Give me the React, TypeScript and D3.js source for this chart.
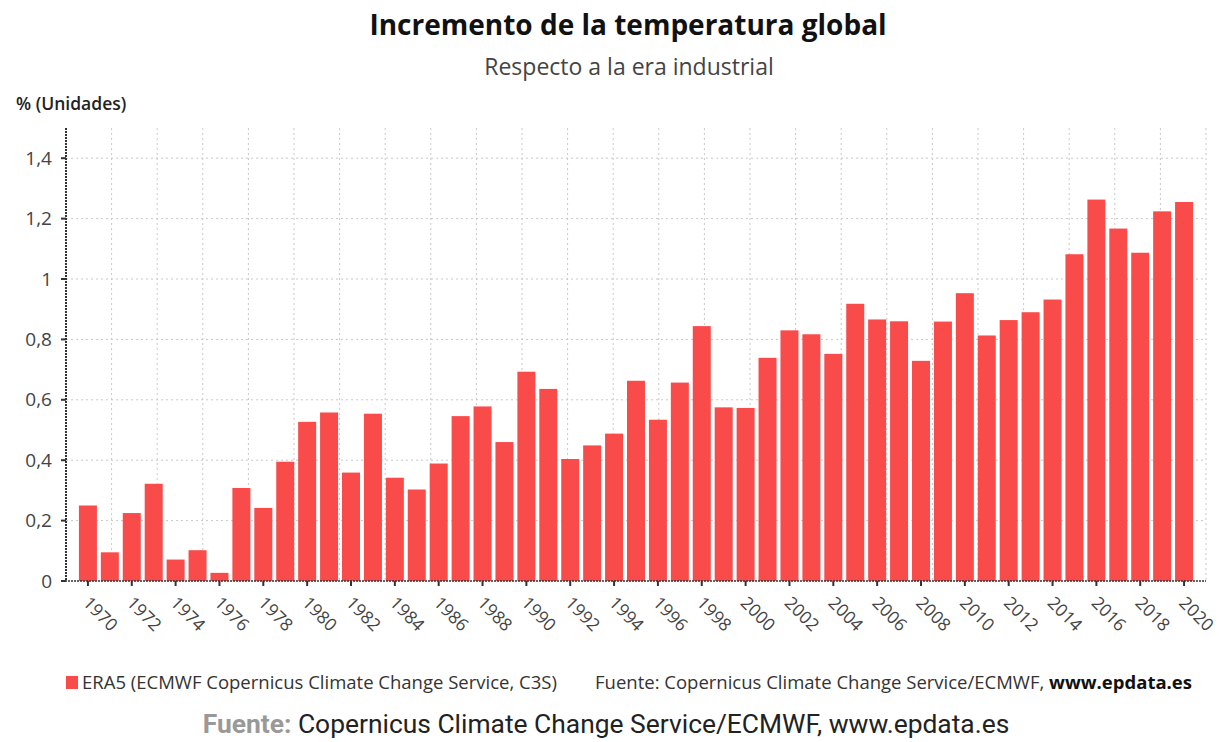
import React from "react";
import * as d3 from "d3";

const years: number[] = d3.range(1970, 2021);
const values: number[] = [
  0.25, 0.095, 0.225, 0.322, 0.071, 0.102, 0.027, 0.308, 0.242, 0.395,
  0.527, 0.558, 0.359, 0.554, 0.342, 0.303, 0.389, 0.546, 0.578, 0.46,
  0.693, 0.636, 0.404, 0.449, 0.488, 0.663, 0.534, 0.657, 0.844, 0.575,
  0.573, 0.739, 0.83, 0.817, 0.752, 0.918, 0.866, 0.86, 0.729, 0.859,
  0.953, 0.813, 0.864, 0.89, 0.932, 1.082, 1.263, 1.167, 1.087, 1.224,
  1.255,
];
const yTicks: number[] = [0, 0.2, 0.4, 0.6, 0.8, 1, 1.2, 1.4];
const xTickYears: number[] = d3.range(1970, 2021, 2);

const W = 1219;
const H = 742;
const left = 66;
const right = 1206;
const top = 128;
const bottom = 581;
const FONT = "'Open Sans', 'Noto Sans', sans-serif";

export default function App() {
  const x = d3.scaleLinear().domain([1969, 2021]).range([left, right]);
  const y = d3.scaleLinear().domain([0, 1.5]).range([bottom, top]);
  const barW = 18;
  const vGrid = d3.range(1, 26).map((i) => left + ((right - left) * i) / 25);
  const fmt = (v: number) => String(v).replace(".", ",");

  return (
    <svg
      width={W}
      height={H}
      style={{ position: "absolute", left: 0, top: 0, background: "#fff" }}
      fontFamily={FONT}
    >
      <text x={628} y={35} textAnchor="middle" fontSize={28} fontWeight={700} fill="#111">
        Incremento de la temperatura global
      </text>
      <text x={629} y={75} textAnchor="middle" fontSize={23} fill="#444">
        Respecto a la era industrial
      </text>
      <text x={16} y={110} fontSize={17.5} fontWeight={600} fill="#222">
        % (Unidades)
      </text>

      {/* grid */}
      {vGrid.map((gx, i) => (
        <line key={"vg" + i} x1={gx} x2={gx} y1={top} y2={bottom} stroke="#c8c8c8" strokeDasharray="2,3" strokeWidth={1} />
      ))}
      {yTicks.filter((t) => t > 0).map((t) => (
        <line key={"hg" + t} x1={left} x2={right} y1={y(t)} y2={y(t)} stroke="#c8c8c8" strokeDasharray="2,3" strokeWidth={1} />
      ))}

      {/* bars */}
      {years.map((yr, i) => (
        <rect
          key={yr}
          x={x(yr) - barW / 2}
          y={y(values[i])}
          width={barW}
          height={y(0) - y(values[i])}
          fill="#fa4b4b"
        />
      ))}

      {/* axes */}
      <line x1={left} x2={left} y1={top} y2={bottom} stroke="#333" strokeWidth={2} strokeDasharray="2,1" />
      <line x1={left - 4} x2={right} y1={bottom} y2={bottom} stroke="#333" strokeWidth={1.5} strokeDasharray="2,1" />
      {yTicks.map((t) => (
        <g key={"yt" + t}>
          <line x1={left - 5} x2={left} y1={y(t)} y2={y(t)} stroke="#333" strokeWidth={2} />
          <text x={52} y={y(t)} dy="0.35em" textAnchor="end" fontSize={19} fill="#444">
            {fmt(t)}
          </text>
        </g>
      ))}
      {xTickYears.map((yr) => (
        <g key={"xt" + yr}>
          <line x1={x(yr)} x2={x(yr)} y1={bottom} y2={bottom + 5} stroke="#333" strokeWidth={2} />
          <text
            transform={`translate(${x(yr) - 6},${bottom + 23}) rotate(45)`}
            fontSize={17.5}
            fill="#444"
            textAnchor="start"
          >
            {yr}
          </text>
        </g>
      ))}

      {/* legend */}
      <rect x={66} y={676} width={12} height={13} fill="#fa4b4b" />
      <text x={82} y={689} fontSize={18.5} fill="#333">
        ERA5 (ECMWF Copernicus Climate Change Service, C3S)
      </text>
      <text x={1192} y={689} fontSize={18.5} fill="#333" textAnchor="end">
        Fuente: Copernicus Climate Change Service/ECMWF, <tspan fontWeight={700} fill="#111">www.epdata.es</tspan>
      </text>

      <text x={606} y={733} textAnchor="middle" fontSize={26.4} fontFamily="Roboto, sans-serif" fill="#222">
        <tspan fontWeight={700} fill="#999">Fuente:</tspan> Copernicus Climate Change Service/ECMWF, www.epdata.es
      </text>
    </svg>
  );
}
